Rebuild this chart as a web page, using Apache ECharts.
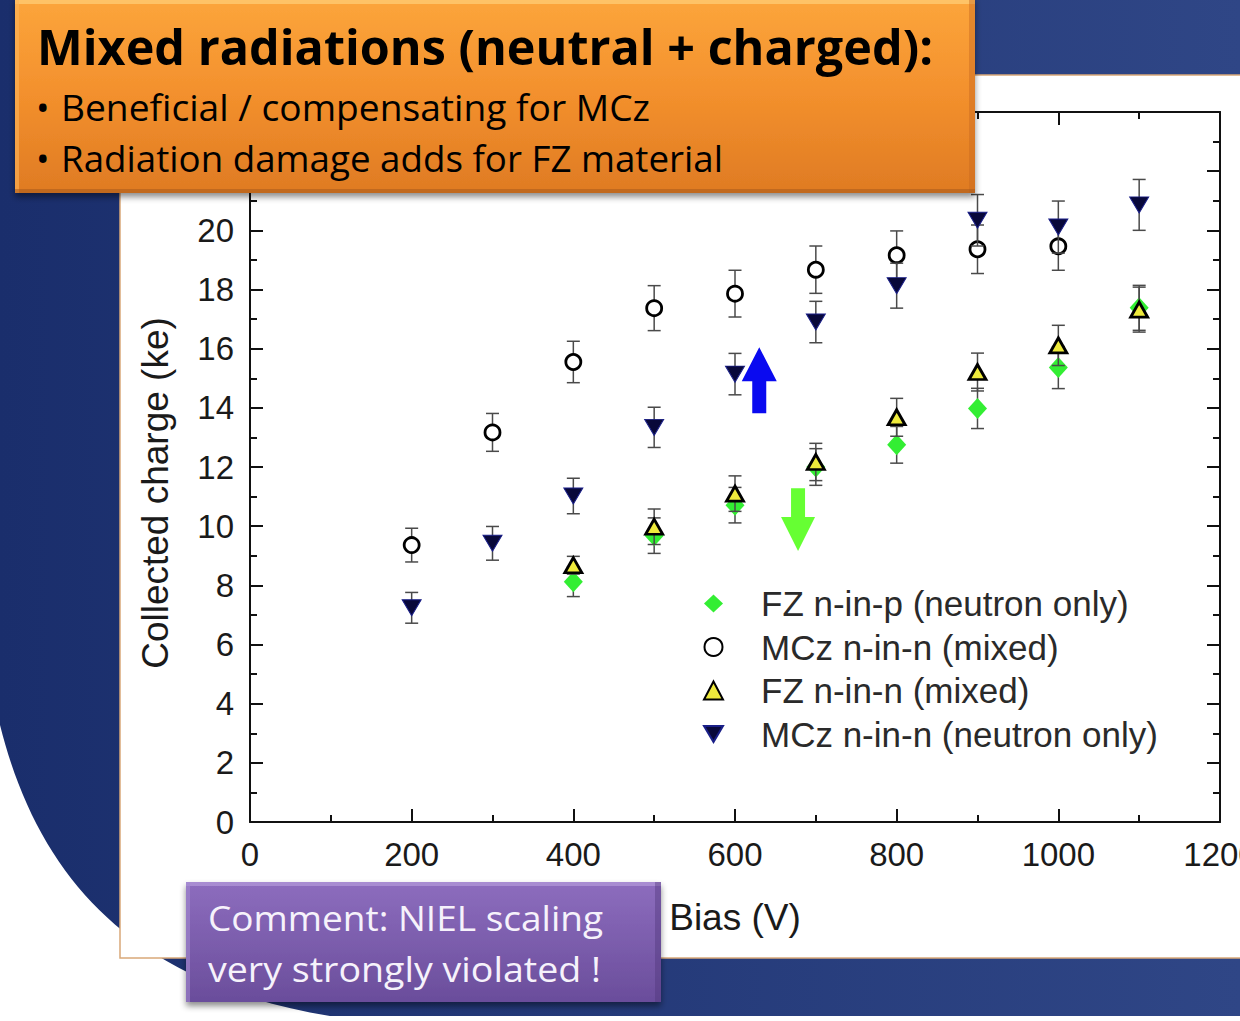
<!DOCTYPE html>
<html>
<head>
<meta charset="utf-8">
<title>Mixed radiations: collected charge vs bias</title>
<script src="https://cdn.jsdelivr.net/npm/echarts@6/dist/echarts.min.js"></script>
<style>
  html, body { margin: 0; padding: 0; width: 1240px; height: 1021px; overflow: hidden; background: #fff; }
  #bg, #fg, #chart { position: absolute; left: 0; top: 0; width: 1240px; height: 1021px; }
  #fg { pointer-events: none; }
</style>
</head>
<body>
<!-- slide backdrop -->
<svg id="bg" width="1240" height="1021" xmlns="http://www.w3.org/2000/svg">
  <defs>
    <linearGradient id="navy" x1="0" y1="0" x2="1" y2="0">
      <stop offset="0" stop-color="#1a2e6c"/>
      <stop offset="1" stop-color="#2f4686"/>
    </linearGradient>
  </defs>
  <rect x="0" y="0" width="1240" height="1021" fill="url(#navy)"/>
  <path d="M0,1021 L0,725 C40,885 140,985 330,1016 L1240,1016 L1240,1021 Z" fill="#ffffff"/>
  <rect x="120" y="75" width="1121" height="883" fill="#ffffff" stroke="#d9a878" stroke-width="1.5"/>
</svg>

<div id="chart"></div>

<!-- callout boxes -->
<svg id="fg" width="1240" height="1021" xmlns="http://www.w3.org/2000/svg">
  <defs>
    <linearGradient id="orange" x1="0" y1="0" x2="0" y2="1">
      <stop offset="0" stop-color="#fca63c"/>
      <stop offset="0.5" stop-color="#f3902d"/>
      <stop offset="1" stop-color="#df7b23"/>
    </linearGradient>
    <linearGradient id="purple" x1="0" y1="0" x2="0" y2="1">
      <stop offset="0" stop-color="#8d6dbe"/>
      <stop offset="1" stop-color="#6a4d9b"/>
    </linearGradient>
    <filter id="drop" x="-5%" y="-10%" width="110%" height="130%">
      <feDropShadow dx="0" dy="4" stdDeviation="3" flood-color="#000" flood-opacity="0.45"/>
    </filter>
  </defs>

  <g filter="url(#drop)">
    <rect x="15" y="-4" width="960" height="197" fill="url(#orange)"/>
  </g>
  <rect x="15" y="0" width="960" height="4" fill="#ffd07a" opacity="0.7"/>
  <rect x="15" y="0" width="4" height="193" fill="#ffb55a" opacity="0.6"/>
  <rect x="969" y="0" width="6" height="193" fill="#c8681e" opacity="0.45"/>
  <rect x="15" y="189" width="960" height="4" fill="#a85a1c" opacity="0.55"/>

  <g font-family="'Open Sans', 'Noto Sans', sans-serif" fill="#000">
    <text x="37" y="65" font-size="49" font-weight="700" textLength="896" lengthAdjust="spacingAndGlyphs">Mixed radiations (neutral + charged):</text>
    <text x="36" y="121" font-size="36">•</text>
    <text x="61" y="121" font-size="36" textLength="589" lengthAdjust="spacingAndGlyphs">Beneficial / compensating for MCz</text>
    <text x="36" y="172" font-size="36">•</text>
    <text x="61" y="172" font-size="36" textLength="662" lengthAdjust="spacingAndGlyphs">Radiation damage adds for FZ material</text>
  </g>

  <g filter="url(#drop)">
    <rect x="186" y="882" width="475" height="120" fill="url(#purple)"/>
  </g>
  <rect x="186" y="882" width="475" height="4" fill="#b49ada" opacity="0.7"/>
  <rect x="186" y="882" width="4" height="120" fill="#a48ad0" opacity="0.6"/>
  <rect x="655" y="882" width="6" height="120" fill="#4e3578" opacity="0.4"/>
  <g font-family="'Open Sans', 'Noto Sans', sans-serif" fill="#f6f2fb" font-size="35">
    <text x="208" y="931" textLength="395" lengthAdjust="spacingAndGlyphs">Comment: NIEL scaling</text>
    <text x="208" y="982" textLength="393" lengthAdjust="spacingAndGlyphs">very strongly violated !</text>
  </g>
</svg>

<script>
// Bias voltages (V) shared by all samples
const biasV = [200, 300, 400, 500, 600, 700, 800, 900, 1000, 1100];

// Collected charge (ke) and uncertainty per sample; null = not measured
const fzNinPNeutron     = [null, null, 8.12, 9.68, 10.71, 12.00, 12.75, 13.98, 15.36, 17.38];
const fzNinPNeutronErr  = [null, null, 0.50, 0.60, 0.60, 0.62, 0.62, 0.68, 0.71, 0.76];

const mczNinNMixed      = [9.36, 13.17, 15.55, 17.37, 17.86, 18.67, 19.16, 19.36, 19.46, null];
const mczNinNMixedErr   = [0.57, 0.64, 0.70, 0.76, 0.79, 0.80, 0.82, 0.82, 0.81, null];

const fzNinNMixed       = [null, null, 8.68, 9.98, 11.10, 12.17, 13.68, 15.21, 16.11, 17.32];
const fzNinNMixedErr    = [null, null, 0.30, 0.60, 0.60, 0.63, 0.64, 0.64, 0.68, 0.76];

const mczNinNNeutron    = [7.24, 9.42, 11.02, 13.34, 15.14, 16.90, 18.13, 20.34, 20.11, 20.86];
const mczNinNNeutronErr = [0.52, 0.57, 0.60, 0.68, 0.70, 0.70, 0.76, 0.87, 0.88, 0.86];

const seriesNames = [
  'FZ n-in-p (neutron only)',
  'MCz n-in-n (mixed)',
  'FZ n-in-n (mixed)',
  'MCz n-in-n (neutron only)'
];

// Axis settings
const xRange = { min: 0, max: 1200, interval: 200 };
const yRange = { min: 0, max: 24, interval: 2 };
const yLabelTop = 20;           // labels above this sit under the title box
const xTitle = 'Bias (V)';
const yTitle = 'Collected charge (ke)';

// Arrow annotations in data units: [tip, tail]
const arrowUp   = [[630, 16.05], [630, 13.82]];
const arrowDown = [[678, 9.16],  [678, 11.28]];

const FONT = "'Liberation Sans', Arial, Helvetica, sans-serif";
const downTriangle = 'path://M0,0L20,0L10,17Z';

function points(values) {
  const out = [];
  values.forEach((v, i) => { if (v != null) out.push([biasV[i], v]); });
  return out;
}
function ranges(values, errs) {
  const out = [];
  values.forEach((v, i) => { if (v != null) out.push([biasV[i], v - errs[i], v + errs[i]]); });
  return out;
}

const ERR_STYLE = { stroke: '#4a4a4a', lineWidth: 1.5 };
function renderErrorBar(params, api) {
  const x = api.value(0);
  const lo = api.coord([x, api.value(1)]);
  const hi = api.coord([x, api.value(2)]);
  const half = 6.5;
  return {
    type: 'group',
    children: [
      { type: 'line', shape: { x1: lo[0], y1: lo[1], x2: hi[0], y2: hi[1] }, style: ERR_STYLE },
      { type: 'line', shape: { x1: hi[0] - half, y1: hi[1], x2: hi[0] + half, y2: hi[1] }, style: ERR_STYLE },
      { type: 'line', shape: { x1: lo[0] - half, y1: lo[1], x2: lo[0] + half, y2: lo[1] }, style: ERR_STYLE }
    ]
  };
}

const samples = [
  { name: seriesNames[0], values: fzNinPNeutron, errs: fzNinPNeutronErr,
    symbol: 'diamond', size: [19, 21],
    itemStyle: { color: '#33ee33', borderWidth: 0, opacity: 1 } },
  { name: seriesNames[1], values: mczNinNMixed, errs: mczNinNMixedErr,
    symbol: 'circle', size: 15,
    itemStyle: { color: '#ffffff', borderColor: '#000000', borderWidth: 2.8, opacity: 1 } },
  { name: seriesNames[2], values: fzNinNMixed, errs: fzNinNMixedErr,
    symbol: 'triangle', size: [17, 15],
    itemStyle: { color: '#eeea3c', borderColor: '#000000', borderWidth: 2.8, opacity: 1 } },
  { name: seriesNames[3], values: mczNinNNeutron, errs: mczNinNNeutronErr,
    symbol: downTriangle, size: [19, 16],
    itemStyle: { color: '#08083a', borderColor: '#1a1f88', borderWidth: 1, opacity: 1 } }
];

const series = [];
samples.forEach((s, k) => {
  series.push({
    type: 'custom',
    name: s.name + ' error',
    renderItem: renderErrorBar,
    encode: { x: 0, y: [1, 2] },
    data: ranges(s.values, s.errs),
    z: 2 + 2 * k,
    silent: true
  });
  series.push({
    type: 'scatter',
    name: s.name,
    symbol: s.symbol,
    symbolSize: s.size,
    itemStyle: s.itemStyle,
    data: points(s.values),
    z: 3 + 2 * k
  });
});

function axisCommon(showLabels, formatter) {
  return {
    axisLine: { show: true, onZero: false, lineStyle: { color: '#111', width: 2 } },
    axisTick: { show: true, inside: true, length: 13, lineStyle: { color: '#111', width: 2 } },
    minorTick: { show: true, splitNumber: 2, length: 7, lineStyle: { color: '#111', width: 2 } },
    splitLine: { show: false },
    minorSplitLine: { show: false },
    axisLabel: showLabels
      ? { show: true, fontFamily: FONT, fontSize: 33, color: '#1a1a1a', margin: 16, formatter: formatter }
      : { show: false }
  };
}

const chart = echarts.init(document.getElementById('chart'), null, { renderer: 'svg', width: 1240, height: 1021 });

chart.setOption({
  backgroundColor: 'transparent',
  animation: false,
  textStyle: { fontFamily: FONT },
  grid: { left: 250, right: 20, top: 112, bottom: 199, containLabel: false, outerBoundsMode: 'none' },
  legend: {
    data: seriesNames,
    orient: 'vertical',
    left: 698,
    top: 581,
    itemWidth: 19,
    itemHeight: 18,
    itemGap: 8.5,
    selectedMode: false,
    textStyle: { fontFamily: FONT, fontSize: 35, color: '#2a2a2a', lineHeight: 34, padding: [0, 0, 0, 33] }
  },
  xAxis: [
    Object.assign(axisCommon(true, (v) => String(v)), {
      type: 'value', position: 'bottom', min: xRange.min, max: xRange.max, interval: xRange.interval,
      name: xTitle, nameLocation: 'middle', nameGap: 77, nameMoveOverlap: false,
      nameTextStyle: { fontFamily: FONT, fontSize: 37, color: '#1a1a1a' }
    }),
    Object.assign(axisCommon(false), {
      type: 'value', position: 'top', min: xRange.min, max: xRange.max, interval: xRange.interval
    })
  ],
  yAxis: [
    Object.assign(axisCommon(true, (v) => (v > yLabelTop ? '' : String(v))), {
      type: 'value', position: 'left', min: yRange.min, max: yRange.max, interval: yRange.interval,
      name: yTitle, nameLocation: 'middle', nameGap: 76, nameMoveOverlap: false,
      nameTextStyle: { fontFamily: FONT, fontSize: 37, color: '#1a1a1a', padding: [0, 52, 0, 0] }
    }),
    Object.assign(axisCommon(false), {
      type: 'value', position: 'right', min: yRange.min, max: yRange.max, interval: yRange.interval
    })
  ],
  series: series
});

// Block arrows anchored to data coordinates
function arrowPoints(tipData, tailData, headW, headL, shaftW) {
  const tip = chart.convertToPixel({ seriesIndex: 1 }, tipData);
  const tail = chart.convertToPixel({ seriesIndex: 1 }, tailData);
  const d = Math.sign(tail[1] - tip[1]);
  const cx = tip[0];
  const hb = tip[1] + d * headL;
  return [
    [cx - shaftW / 2, tail[1]], [cx - shaftW / 2, hb], [cx - headW / 2, hb],
    [cx, tip[1]],
    [cx + headW / 2, hb], [cx + shaftW / 2, hb], [cx + shaftW / 2, tail[1]]
  ];
}

chart.setOption({
  graphic: [
    { type: 'polygon', z: 20, shape: { points: arrowPoints(arrowUp[0], arrowUp[1], 35, 34, 14) },
      style: { fill: '#0a0af0' } },
    { type: 'polygon', z: 20, shape: { points: arrowPoints(arrowDown[0], arrowDown[1], 34, 34, 14) },
      style: { fill: '#66ff33' } }
  ]
});
</script>
</body>
</html>
